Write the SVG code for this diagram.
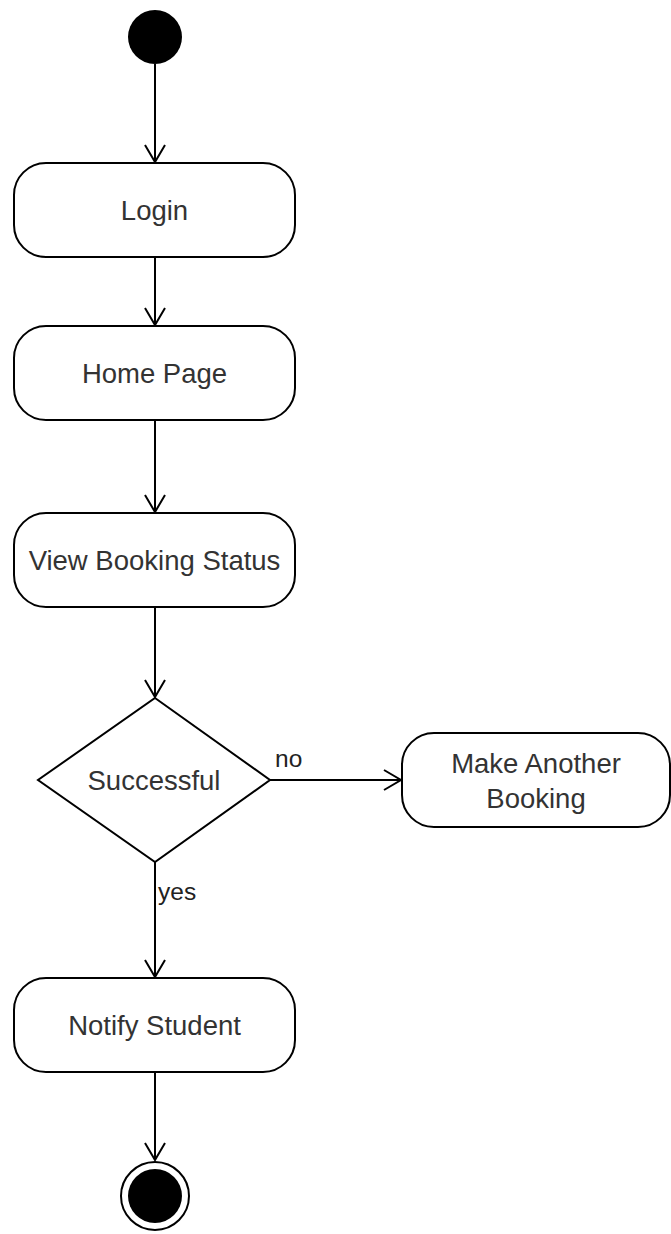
<svg xmlns="http://www.w3.org/2000/svg" width="671" height="1234" viewBox="0 0 671 1234">
  <style>
    .box { fill: #ffffff; stroke: #000000; stroke-width: 2; }
    .lbl { font-family: "Liberation Sans", Arial, sans-serif; font-size: 27.5px; fill: #333333; text-anchor: middle; }
    .edge-lbl { font-family: "Liberation Sans", Arial, sans-serif; font-size: 24.5px; fill: #222222; }
    .edge { fill: none; stroke: #000000; stroke-width: 2; marker-end: url(#open); }
  </style>
  <defs>
    <marker id="open" markerUnits="userSpaceOnUse" markerWidth="24" markerHeight="24" viewBox="-20 -12 24 24" refX="0" refY="0" orient="auto">
      <path d="M -17 -10 L 0 0 L -17 10" fill="none" stroke="#000000" stroke-width="2"/>
    </marker>
  </defs>
  <rect width="671" height="1234" fill="#ffffff"/>

  <g id="connectors">
    <line class="edge" x1="155" y1="64" x2="155" y2="162"/>
    <line class="edge" x1="155" y1="257" x2="155" y2="325"/>
    <line class="edge" x1="155" y1="420" x2="155" y2="512"/>
    <line class="edge" x1="155" y1="607" x2="155" y2="697"/>
    <line class="edge" x1="270" y1="780" x2="401" y2="780"/>
    <line class="edge" x1="155" y1="862" x2="155" y2="977"/>
    <line class="edge" x1="155" y1="1072" x2="155" y2="1160"/>
    <text class="edge-lbl" x="275" y="767">no</text>
    <text class="edge-lbl" x="158" y="900">yes</text>
  </g>

  <g id="start">
    <circle cx="155" cy="37" r="27" fill="#000000"/>
  </g>

  <g id="login">
    <rect class="box" x="14" y="163" width="281" height="94" rx="32" ry="32"/>
    <text class="lbl" x="154.5" y="220">Login</text>
  </g>

  <g id="home-page">
    <rect class="box" x="14" y="326" width="281" height="94" rx="32" ry="32"/>
    <text class="lbl" x="154.5" y="383">Home Page</text>
  </g>

  <g id="view-booking-status">
    <rect class="box" x="14" y="513" width="281" height="94" rx="32" ry="32"/>
    <text class="lbl" x="154.5" y="570">View Booking Status</text>
  </g>

  <g id="successful">
    <polygon class="box" points="155,698 270,780 155,862 38,780"/>
    <text class="lbl" x="154" y="790">Successful</text>
  </g>

  <g id="make-another-booking">
    <rect class="box" x="402" y="733" width="268" height="94" rx="32" ry="32"/>
    <text class="lbl" x="536" y="773">Make Another</text>
    <text class="lbl" x="536" y="808">Booking</text>
  </g>

  <g id="notify-student">
    <rect class="box" x="14" y="978" width="281" height="94" rx="32" ry="32"/>
    <text class="lbl" x="154.5" y="1035">Notify Student</text>
  </g>

  <g id="end">
    <circle cx="155" cy="1196" r="34" fill="#ffffff" stroke="#000000" stroke-width="2"/>
    <circle cx="155" cy="1196" r="27" fill="#000000"/>
  </g>
</svg>
